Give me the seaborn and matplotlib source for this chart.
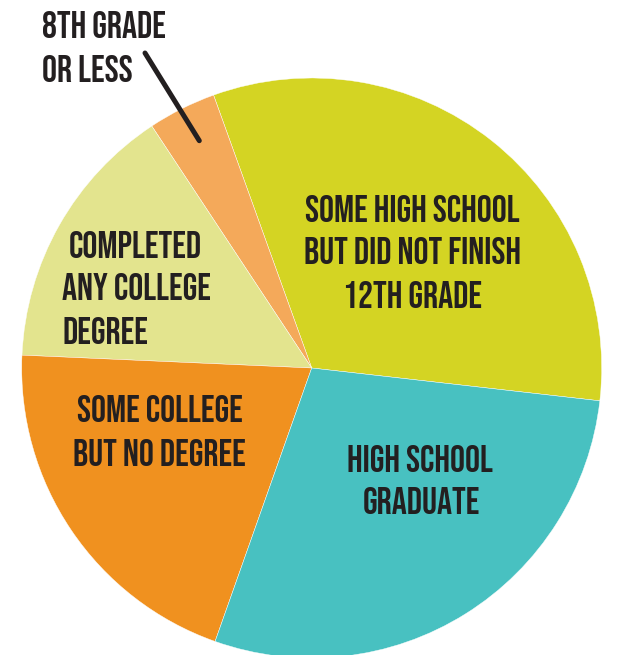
import matplotlib
matplotlib.use("Agg")
from matplotlib import pyplot as plt
from matplotlib import font_manager
import seaborn as sns

W, H = 622, 655

# slices, counter-clockwise starting from the right-hand edge
categories = ["Some high school but did not finish 12th grade", "8th grade or less",
              "Completed any college degree", "Some college but no degree",
              "High school graduate"]
shares = [32.3, 3.8, 15.0, 20.3, 28.6]
slice_colors = ["#D4D423", "#F4A95A", "#E3E48E", "#F0911F", "#48C1C1"]
label_lines = [
    ["SOME HIGH SCHOOL", "BUT DID NOT FINISH", "12TH GRADE"],
    ["8TH GRADE", "OR LESS"],
    ["COMPLETED", "ANY COLLEGE", "DEGREE"],
    ["SOME COLLEGE", "BUT NO DEGREE"],
    ["HIGH SCHOOL", "GRADUATE"],
]

TEXT_COLOR = "#231F20"


def pick_family(candidates):
    for name in candidates:
        try:
            font_manager.findfont(font_manager.FontProperties(family=name, weight="bold"),
                                  fallback_to_default=False)
            return name
        except ValueError:
            continue
    return "DejaVu Sans"


sns.set_theme(style="white")
family = pick_family(["Bebas Neue", "Oswald", "Liberation Sans Narrow", "Roboto Condensed",
                      "Open Sans Condensed", "DejaVu Sans"])
plt.rcParams["font.family"] = [family, "DejaVu Sans"]

fig = plt.figure(figsize=(W / 100, H / 100), dpi=100)
ax = fig.add_axes([0, 0, 1, 1])

ax.pie(shares, colors=sns.color_palette(slice_colors), startangle=-6.5, counterclock=True,
       center=(311.7, H - 368), radius=290,
       wedgeprops=dict(edgecolor="white", linewidth=0.3))

# leader line for the small slice
ax.plot([145, 199.3], [H - 53, H - 140.7], color=TEXT_COLOR, lw=3.6, solid_capstyle="round")

# anchor of each line (x, y in pixels from the top-left) and alignment
layout = [
    ([(412.5, 208), (412.5, 251), (412.5, 294)], "center"),
    ([(42, 25), (42, 68)], "left"),
    ([(69, 244), (62, 287), (62, 330)], "left"),
    ([(159.5, 409), (159.5, 453)], "center"),
    ([(420, 458), (421, 501)], "center"),
]

for lines, (anchors, ha) in zip(label_lines, layout):
    for line, (x, y) in zip(lines, anchors):
        ax.text(x, H - y, line, ha=ha, va="center_baseline",
                fontsize=27, fontweight="bold", fontstretch="condensed", color=TEXT_COLOR)

ax.set_xlim(0, W)
ax.set_ylim(0, H)
ax.set_aspect("equal")
ax.axis("off")

fig.savefig("out.png", dpi=100)
